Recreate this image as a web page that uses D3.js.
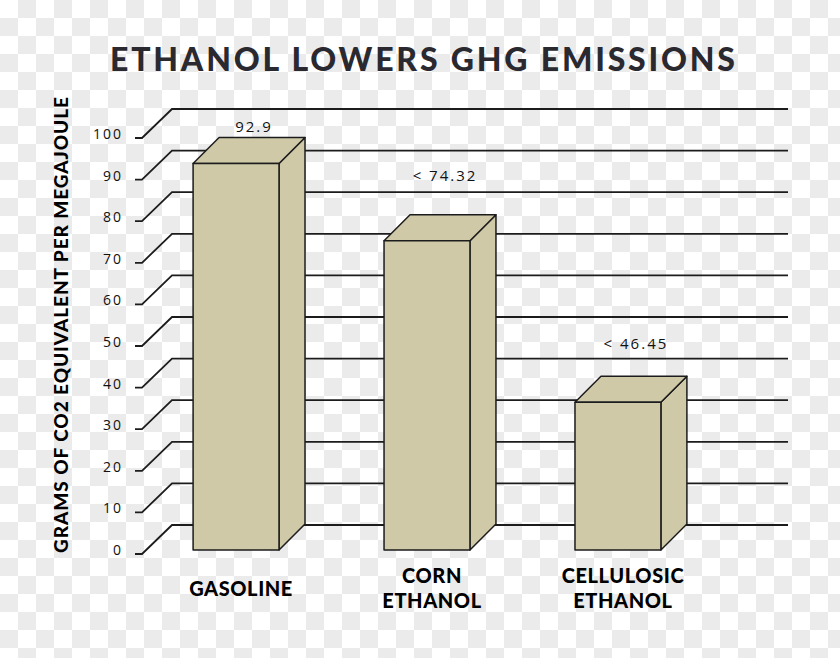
<!DOCTYPE html>
<html>
<head>
<meta charset="utf-8">
<script src="https://cdnjs.cloudflare.com/ajax/libs/d3/7.8.5/d3.min.js"></script>
<style>
  body { margin: 0; }
  svg { display: block; }
</style>
</head>
<body>
<div id="chart"></div>
<script>
// chart data
const categories = ['GASOLINE', 'CORN ETHANOL', 'CELLULOSIC ETHANOL'];
const values = [92.9, 74.32, 35.5];
const valueLabels = ['92.9', '< 74.32', '< 46.45'];
const yTicks = [0, 10, 20, 30, 40, 50, 60, 70, 80, 90, 100];
const titleText = 'ETHANOL LOWERS GHG EMISSIONS';
const yTitleText = 'GRAMS OF CO2 EQUIVALENT PER MEGAJOULE';

// layout
const width = 840, height = 658;
const wall = { dx: 30, dy: -29, right: 788 };
const depth = { dx: 26, dy: -26 };
const labelLift = [6, 34, 27];
const barFill = '#cfc9a8';
const ink = '#1c1c1c';

const svg = d3.select('#chart').append('svg')
  .attr('width', width)
  .attr('height', height);

// transparent-style checkerboard backdrop
const defs = svg.append('defs');
const pat = defs.append('pattern')
  .attr('id', 'checker')
  .attr('width', 36).attr('height', 36)
  .attr('patternUnits', 'userSpaceOnUse');
pat.append('rect').attr('width', 36).attr('height', 36).attr('fill', '#ffffff');
pat.append('rect').attr('x', 18).attr('y', 0).attr('width', 18).attr('height', 18).attr('fill', '#ebebeb');
pat.append('rect').attr('x', 0).attr('y', 18).attr('width', 18).attr('height', 18).attr('fill', '#ebebeb');
svg.append('rect').attr('width', width).attr('height', height).attr('fill', 'url(#checker)');

// scales
const yAxisScale = d3.scaleLinear().domain([0, 100]).range([554, 138]);
const yBar = d3.scaleLinear().domain([0, 100]).range([550, 134]);
const x = d3.scaleBand()
  .domain(categories)
  .range([174, 680])
  .paddingInner(0.55)
  .paddingOuter(0.1);

// title
svg.append('text')
  .attr('x', 110)
  .attr('y', 71)
  .attr('textLength', 625)
  .attr('lengthAdjust', 'spacing')
  .style('font-family', 'Lato, sans-serif')
  .style('font-weight', 900)
  .style('font-size', '32px')
  .style('fill', '#2a2930')
  .text(titleText);

// y axis title
svg.append('text')
  .attr('transform', 'translate(68,325) rotate(-90)')
  .attr('text-anchor', 'middle')
  .attr('textLength', 456)
  .attr('lengthAdjust', 'spacing')
  .style('font-family', 'Lato, sans-serif')
  .style('font-weight', 900)
  .style('font-size', '19px')
  .style('fill', '#000')
  .text(yTitleText);

// back wall grid lines with perspective bend
const line = d3.line();
svg.append('g').attr('class', 'grid')
  .selectAll('path')
  .data(yTicks)
  .join('path')
  .attr('fill', 'none')
  .attr('stroke', ink)
  .attr('stroke-width', 1.8)
  .attr('d', d => {
    const y0 = yAxisScale(d);
    return line([[135, y0], [142, y0], [142 + wall.dx, y0 + wall.dy], [wall.right, y0 + wall.dy]]);
  });

// tick labels
const axis = d3.axisLeft(yAxisScale).tickValues(yTicks).tickSize(0).tickPadding(0);
const axisG = svg.append('g')
  .attr('transform', 'translate(123,-4)')
  .call(axis);
axisG.select('.domain').remove();
axisG.selectAll('text')
  .style('font-family', '"Open Sans", sans-serif')
  .style('font-size', '14px')
  .style('letter-spacing', '2px')
  .style('fill', '#111');

// 3D bars
const bars = svg.append('g').attr('class', 'bars')
  .selectAll('g')
  .data(categories.map((c, i) => ({ cat: c, value: values[i], label: valueLabels[i], lift: labelLift[i] })))
  .join('g');

bars.each(function (d) {
  const g = d3.select(this);
  const x0 = x(d.cat), x1 = x0 + x.bandwidth();
  const yt = yBar(d.value), yb = yBar(0);
  const style = sel => sel
    .attr('fill', barFill)
    .attr('stroke', ink)
    .attr('stroke-width', 1.5)
    .attr('stroke-linejoin', 'round');
  // side face
  g.append('path').call(style)
    .attr('d', line([[x1, yt], [x1 + depth.dx, yt + depth.dy], [x1 + depth.dx, yb + depth.dy], [x1, yb]]) + 'Z');
  // top face
  g.append('path').call(style)
    .attr('d', line([[x0, yt], [x0 + depth.dx, yt + depth.dy], [x1 + depth.dx, yt + depth.dy], [x1, yt]]) + 'Z');
  // front face
  g.append('rect').call(style)
    .attr('x', x0).attr('y', yt)
    .attr('width', x1 - x0).attr('height', yb - yt);
  // value label
  g.append('text')
    .attr('x', x0 + x.bandwidth() / 2 + 18)
    .attr('y', yt + depth.dy - d.lift)
    .attr('text-anchor', 'middle')
    .style('font-family', '"Open Sans", sans-serif')
    .style('font-size', '15px')
    .style('letter-spacing', '2px')
    .style('fill', '#111')
    .text(d.label);
});

// category labels
svg.append('g').attr('class', 'cats')
  .selectAll('text')
  .data(categories)
  .join('text')
  .attr('text-anchor', 'middle')
  .attr('x', d => x(d) + x.bandwidth() / 2 + 5)
  .attr('y', d => d.split(' ').length > 1 ? 583 : 596)
  .style('font-family', 'Lato, sans-serif')
  .style('font-weight', 900)
  .style('font-size', '20px')
  .style('letter-spacing', '0.6px')
  .style('fill', '#000')
  .each(function (d) {
    const words = d.split(' ');
    d3.select(this).selectAll('tspan')
      .data(words)
      .join('tspan')
      .attr('x', d3.select(this).attr('x'))
      .attr('dy', (w, i) => i === 0 ? 0 : 25)
      .text(w => w);
  });
</script>
</body>
</html>
